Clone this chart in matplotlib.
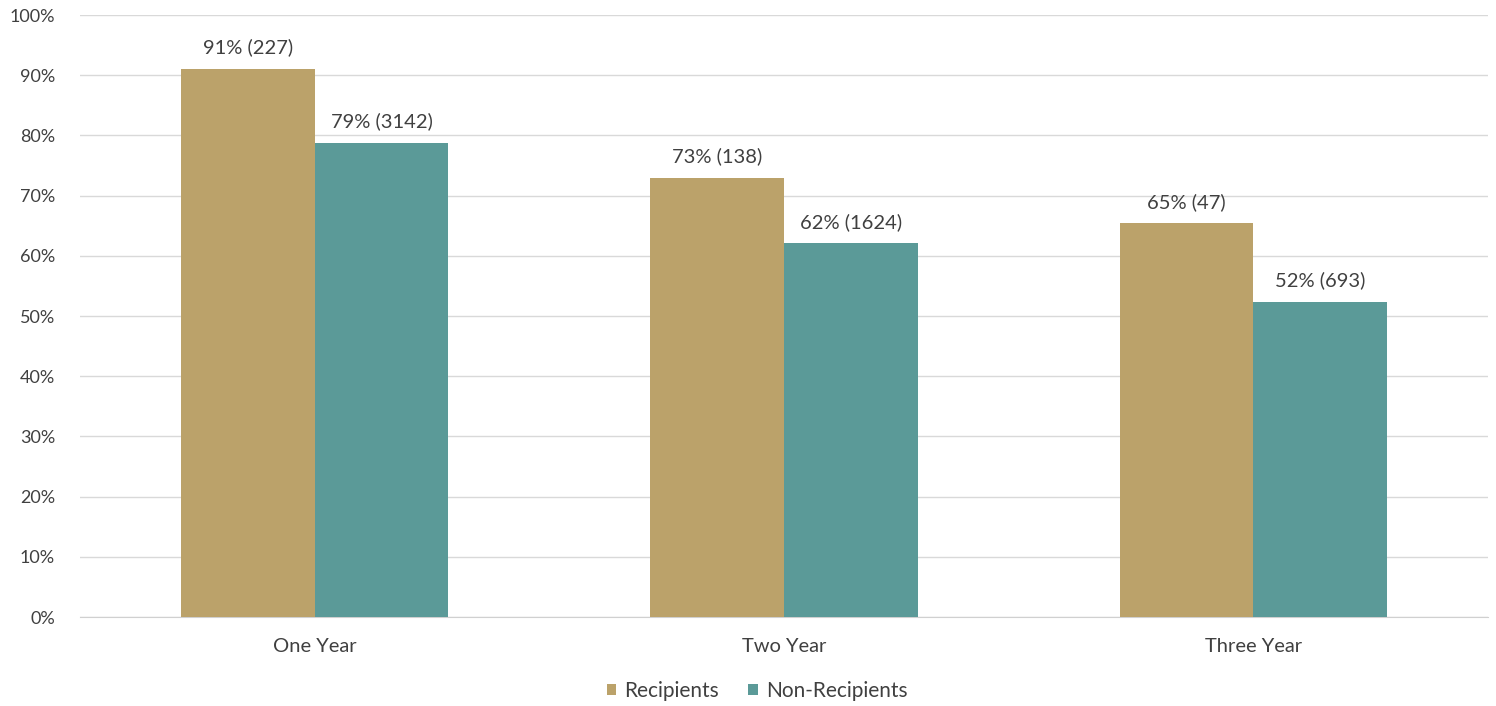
import matplotlib
matplotlib.use("Agg")
import matplotlib.pyplot as plt
import numpy as np

categories = ["One Year", "Two Year", "Three Year"]
recipients = [91.1, 73.0, 65.4]
non_recipients = [78.8, 62.1, 52.3]
recipient_labels = ["91% (227)", "73% (138)", "65% (47)"]
non_recipient_labels = ["79% (3142)", "62% (1624)", "52% (693)"]
y_ticks = [0, 10, 20, 30, 40, 50, 60, 70, 80, 90, 100]

plt.rcParams['font.family'] = ['Lato', 'DejaVu Sans']

fig = plt.figure(figsize=(14.96, 7.06), dpi=100)
ax = fig.add_axes([80/1496, 89/706, 1408/1496, (617-15)/706])

x = np.arange(len(categories))
w = 0.285
c1 = "#BBA26A"
c2 = "#5B9A98"
b1 = ax.bar(x - w/2, recipients, w, color=c1, label="Recipients", zorder=3)
b2 = ax.bar(x + w/2, non_recipients, w, color=c2, label="Non-Recipients", zorder=3)

for bars, labs in ((b1, recipient_labels), (b2, non_recipient_labels)):
    for b, t in zip(bars, labs):
        ax.annotate(t, (b.get_x() + b.get_width()/2, b.get_height()),
                    xytext=(0, 9), textcoords="offset points", ha="center",
                    va="bottom", fontsize=14.5, color="#404040")

ax.set_xlim(-0.5, 2.5)
ax.set_ylim(0, 100)
ax.set_yticks(y_ticks)
ax.set_yticklabels([f"{v}%" for v in y_ticks])
ax.set_xticks(x)
ax.set_xticklabels(categories)
ax.tick_params(length=0, labelsize=13, labelcolor="#404040")
ax.tick_params(axis="y", pad=18)
ax.tick_params(axis="x", pad=15, labelsize=14.5)
ax.grid(axis="y", color="#d9d9d9", linewidth=1, zorder=0)
for s in ("top", "right", "left"):
    ax.spines[s].set_visible(False)
ax.spines["bottom"].set_color("#d0d0d0")

leg = fig.legend(loc="center", bbox_to_anchor=(757/1496, 1 - 691/706), ncol=2,
                 frameon=False, fontsize=15, handlelength=0.45, handleheight=0.45,
                 handletextpad=0.4, columnspacing=1.4, labelcolor="#404040")

fig.savefig("out.png", dpi=100, facecolor="white")
